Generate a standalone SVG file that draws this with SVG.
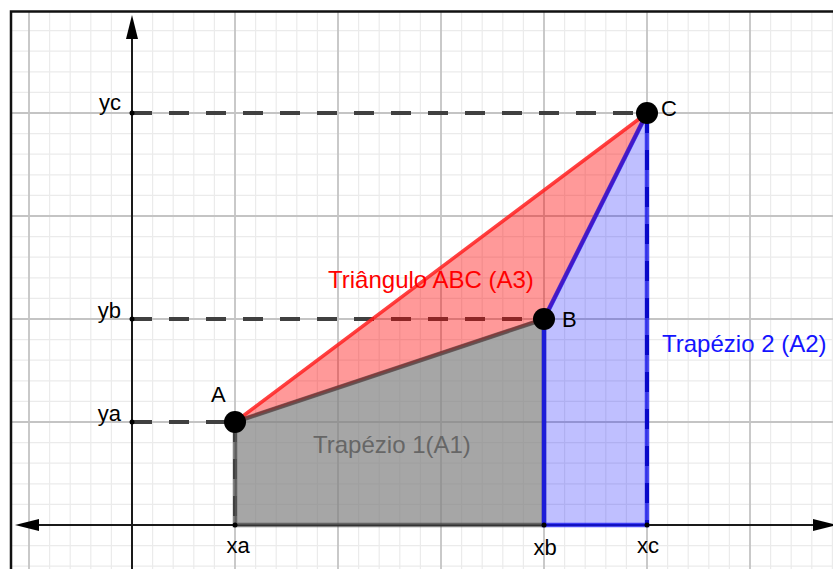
<svg xmlns="http://www.w3.org/2000/svg" width="833" height="569" viewBox="0 0 833 569">
<style>
.minor{stroke:#ebebeb;stroke-width:1.2;fill:none}
.major{stroke:#c4c4c4;stroke-width:1.8;fill:none}
.axis{stroke:#1a1a1a;stroke-width:2;fill:none}
.guide{stroke:#404040;stroke-width:4;stroke-dasharray:20 17;fill:none}
.pt{fill:#000}
.dot{fill:#000}
.lbl{font-family:"Liberation Sans",Arial,sans-serif;font-size:22px;fill:#000}
.big{font-family:"Liberation Sans",Arial,sans-serif;font-size:24px}
</style>
<defs>
<marker id="arr" viewBox="0 0 24 12" refX="2" refY="6" markerWidth="24" markerHeight="12" markerUnits="userSpaceOnUse" orient="auto-start-reverse">
<path d="M0,0 L24,6 L0,12 Z" fill="#000"/>
</marker>
</defs>
<rect width="833" height="569" fill="#fff"/>
<g id="grid">
<path class="minor" d="M49.6,11V569M70.2,11V569M90.8,11V569M111.4,11V569M152.6,11V569M173.2,11V569M193.8,11V569M214.4,11V569M255.6,11V569M276.2,11V569M296.8,11V569M317.4,11V569M358.6,11V569M379.2,11V569M399.8,11V569M420.4,11V569M461.6,11V569M482.2,11V569M502.8,11V569M523.4,11V569M564.6,11V569M585.2,11V569M605.8,11V569M626.4,11V569M667.6,11V569M688.2,11V569M708.8,11V569M729.4,11V569M770.6,11V569M791.2,11V569M811.8,11V569M832.4,11V569M11,566.2H833M11,545.6H833M11,504.4H833M11,483.8H833M11,463.2H833M11,442.6H833M11,401.4H833M11,380.8H833M11,360.2H833M11,339.6H833M11,298.4H833M11,277.8H833M11,257.2H833M11,236.6H833M11,195.4H833M11,174.8H833M11,154.2H833M11,133.6H833M11,92.4H833M11,71.8H833M11,51.2H833M11,30.6H833"/>
<path class="major" d="M29,11V569M235,11V569M338,11V569M441,11V569M544,11V569M647,11V569M750,11V569M11,422H833M11,319H833M11,216H833M11,113H833"/>
<path d="M11,569V11.5H833" fill="none" stroke="#111" stroke-width="2.5"/>
</g>
<g id="axes">
<line class="axis" x1="132" y1="569" x2="132" y2="37" marker-end="url(#arr)"/>
<line class="axis" x1="37" y1="525" x2="815" y2="525" marker-start="url(#arr)" marker-end="url(#arr)"/>
</g>
<g id="connectors">
<line class="guide" x1="132" y1="113" x2="647" y2="113"/>
<line class="guide" x1="132" y1="319" x2="544" y2="319"/>
<line class="guide" x1="132" y1="422" x2="235" y2="422"/>
<line class="guide" x1="235" y1="422" x2="235" y2="525" stroke="#5a5a5a"/>
</g>
<g id="triangulo">
<polygon points="235,422 647,113 544,319" fill="#ff0000" fill-opacity="0.4" stroke="#ff2020" stroke-opacity="0.85" stroke-width="3.5" stroke-linejoin="round"/>
</g>
<g id="trapezio1">
<polygon points="235,422 544,319 544,525 235,525" fill="#808080" fill-opacity="0.7" stroke="#404040" stroke-opacity="0.65" stroke-width="4.5"/>
</g>
<g id="trapezio2">
<polygon points="544,319 647,113 647,525 544,525" fill="#0000ff" fill-opacity="0.25" stroke="#1010ee" stroke-opacity="0.75" stroke-width="4.5"/>
<line x1="544" y1="319" x2="544" y2="525" stroke="#1c1cd8" stroke-width="4"/>
<line x1="647" y1="113" x2="647" y2="525" stroke="#0808c8" stroke-width="4" stroke-dasharray="20 17"/>
</g>
<g id="dots">
<circle class="dot" cx="132" cy="113" r="2.5"/>
<circle class="dot" cx="132" cy="319" r="2.5"/>
<circle class="dot" cx="132" cy="422" r="2.5"/>
<circle class="dot" cx="235" cy="525" r="2.5"/>
<circle class="dot" cx="544" cy="525" r="2.5"/>
<circle class="dot" cx="647" cy="525" r="2.5"/>
</g>
<g id="point-A"><circle class="pt" cx="235" cy="422" r="11"/><text class="lbl" x="211" y="402">A</text></g>
<g id="point-B"><circle class="pt" cx="544" cy="319" r="11"/><text class="lbl" x="562" y="327">B</text></g>
<g id="point-C"><circle class="pt" cx="647" cy="113" r="11"/><text class="lbl" x="661" y="116">C</text></g>
<g id="axis-labels">
<text class="lbl" x="121" y="110" text-anchor="end">yc</text>
<text class="lbl" x="121" y="318" text-anchor="end">yb</text>
<text class="lbl" x="121" y="421" text-anchor="end">ya</text>
<text class="lbl" x="238" y="553" text-anchor="middle">xa</text>
<text class="lbl" x="545" y="555" text-anchor="middle">xb</text>
<text class="lbl" x="648" y="553" text-anchor="middle">xc</text>
</g>
<g id="region-labels">
<text class="big" x="328" y="288" fill="#ff0000">Triângulo ABC (A3)</text>
<text class="big" x="313" y="453" fill="#666666">Trapézio 1(A1)</text>
<text class="big" x="662" y="352" fill="#1414ff">Trapézio 2 (A2)</text>
</g>
</svg>
